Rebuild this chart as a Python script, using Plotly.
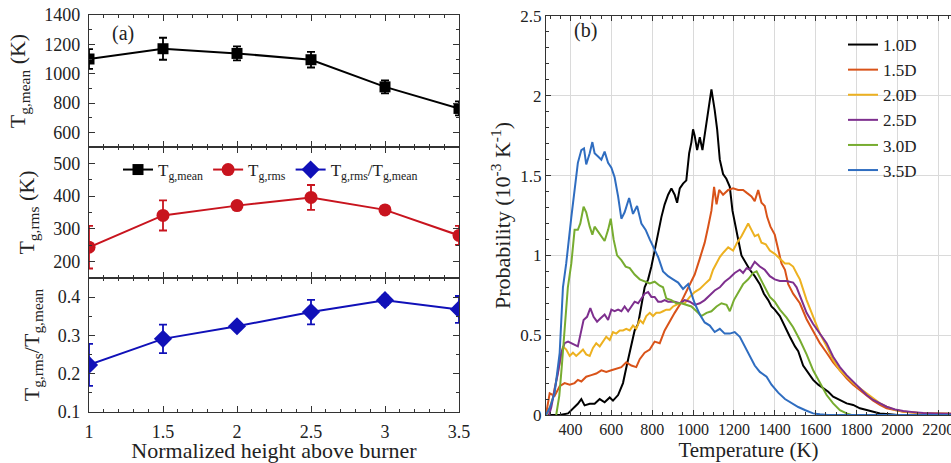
import plotly.graph_objects as go

# ---------------- Panel (a) data ----------------
heights = [1.0, 1.5, 2.0, 2.5, 3.0, 3.5]
tg_mean = [1100, 1170, 1138, 1095, 910, 763]
tg_mean_err = [68, 75, 48, 53, 44, 48]
tg_rms = [244, 341, 371, 396, 358, 280]
tg_rms_err = [65, 46, 10, 38, 8, 29]
tg_ratio = [0.223, 0.291, 0.324, 0.361, 0.392, 0.368]
tg_ratio_err = [0.055, 0.037, 0.01, 0.032, 0.012, 0.035]

# ---------------- Panel (b) data (PDFs) ----------------
T_10D = [280, 347, 388, 412, 436, 453, 469, 494, 518, 543, 567, 592, 608, 633, 657, 677, 698, 714, 731, 747,
         763, 780, 796, 812, 829, 845, 861, 878, 894, 910, 922, 935, 951, 967, 981, 992, 1000, 1008, 1020, 1033,
         1046, 1057, 1074, 1090, 1106, 1118, 1131, 1147, 1163, 1180, 1193, 1204, 1221, 1237, 1258, 1278, 1302, 1327,
         1347, 1368, 1384, 1400, 1425, 1450, 1474, 1499, 1515, 1539, 1564, 1588, 1613, 1637, 1662, 1686, 1719, 1752,
         1784, 1817, 1850, 1882, 1915, 1964, 2000, 2100, 2263]
P_10D = [0, 0, 0.01, 0.04, 0.07, 0.10, 0.06, 0.07, 0.07, 0.10, 0.08, 0.11, 0.09, 0.125, 0.20, 0.32, 0.45, 0.53, 0.57, 0.68,
         0.80, 0.85, 0.93, 1.03, 1.14, 1.24, 1.32, 1.38, 1.42, 1.38, 1.33, 1.42, 1.45, 1.47, 1.64, 1.71, 1.79, 1.75, 1.66, 1.74,
         1.66, 1.76, 1.89, 2.04, 1.91, 1.79, 1.60, 1.51, 1.48, 1.43, 1.28, 1.20, 1.10, 1.00, 0.95, 0.91, 0.87, 0.82,
         0.76, 0.72, 0.68, 0.66, 0.62, 0.55, 0.49, 0.43, 0.40, 0.31, 0.26, 0.22, 0.19, 0.167, 0.146, 0.115, 0.094, 0.073,
         0.063, 0.042, 0.031, 0.02, 0.01, 0.004, 0, 0, 0]

T_15D = [281, 298, 322, 347, 371, 396, 420, 436, 453, 477, 502, 526, 551, 575, 600, 624, 649, 673, 698, 722,
         739, 763, 788, 812, 837, 861, 886, 910, 935, 959, 984, 1008, 1033, 1057, 1074, 1090, 1103, 1115, 1128, 1147,
         1172, 1196, 1221, 1245, 1265, 1286, 1302, 1319, 1335, 1351, 1363, 1379, 1400, 1417, 1433, 1450, 1466, 1490,
         1523, 1556, 1588, 1621, 1654, 1686, 1719, 1752, 1784, 1817, 1850, 1882, 1915, 1948, 1989, 2029, 2078, 2127,
         2193, 2263]
P_15D = [0.01, 0.136, 0.12, 0.18, 0.20, 0.19, 0.20, 0.22, 0.21, 0.24, 0.25, 0.26, 0.28, 0.27, 0.28, 0.29, 0.30, 0.33, 0.31, 0.30,
         0.35, 0.39, 0.41, 0.46, 0.45, 0.53, 0.59, 0.64, 0.69, 0.75, 0.82, 0.88, 0.98, 1.08, 1.18, 1.28, 1.43, 1.32, 1.41, 1.38,
         1.41, 1.42, 1.41, 1.41, 1.39, 1.37, 1.34, 1.41, 1.33, 1.31, 1.24, 1.18, 1.13, 1.03, 0.95, 0.91, 0.82, 0.76,
         0.70, 0.60, 0.53, 0.45, 0.39, 0.33, 0.28, 0.23, 0.19, 0.157, 0.12, 0.09, 0.063, 0.042, 0.031, 0.021, 0.015, 0.01,
         0.01, 0.008]

T_20D = [285, 294, 314, 330, 347, 363, 379, 396, 412, 428, 445, 461, 477, 494, 510, 526, 543, 559, 575, 592, 608,
         624, 641, 657, 673, 690, 706, 722, 739, 755, 771, 788, 804, 820, 837, 853, 869, 886, 902, 918, 935,
         959, 984, 1008, 1033, 1057, 1082, 1098, 1115, 1131, 1150, 1172, 1196, 1216, 1237, 1253, 1270, 1286, 1302,
         1319, 1335, 1356, 1376, 1400, 1425, 1450, 1470, 1490, 1510, 1523, 1556, 1588, 1621, 1654, 1686, 1719, 1752,
         1784, 1817, 1850, 1882, 1915, 1948, 1989, 2029, 2078, 2127, 2193, 2263]
P_20D = [0, 0.03, 0.11, 0.22, 0.345, 0.43, 0.41, 0.37, 0.39, 0.37, 0.39, 0.41, 0.38, 0.37, 0.42, 0.45, 0.43, 0.46, 0.49, 0.47, 0.52,
         0.51, 0.53, 0.53, 0.54, 0.53, 0.56, 0.54, 0.595, 0.575, 0.62, 0.64, 0.62, 0.64, 0.64, 0.65, 0.66, 0.66, 0.68, 0.69, 0.70,
         0.70, 0.74, 0.77, 0.79, 0.82, 0.85, 0.91, 0.95, 0.99, 1.02, 1.05, 1.03, 1.08, 1.12, 1.16, 1.20, 1.16, 1.12,
         1.13, 1.08, 1.07, 1.03, 1.01, 0.98, 0.95, 0.95, 0.93, 0.88, 0.85, 0.72, 0.62, 0.51, 0.43, 0.345, 0.28, 0.24,
         0.20, 0.167, 0.136, 0.104, 0.073, 0.052, 0.031, 0.022, 0.015, 0.01, 0.01, 0.008]

T_25D = [295, 306, 322, 338, 355, 371, 388, 404, 420, 436, 453, 464, 481, 497, 513, 530, 546, 567, 584, 600, 616,
         633, 649, 665, 682, 698, 714, 731, 747, 763, 780, 796, 812, 829, 845, 861, 878, 894, 910, 935, 959,
         984, 1008, 1033, 1057, 1082, 1106, 1131, 1155, 1180, 1204, 1229, 1245, 1262, 1278, 1302, 1327, 1351, 1376,
         1400, 1425, 1458, 1490, 1507, 1531, 1556, 1588, 1621, 1654, 1686, 1719, 1752, 1784, 1817, 1850, 1882, 1915,
         1948, 1989, 2029, 2078, 2127, 2193, 2263]
P_25D = [0, 0.05, 0.16, 0.26, 0.39, 0.45, 0.46, 0.45, 0.44, 0.43, 0.53, 0.595, 0.615, 0.67, 0.615, 0.585, 0.605, 0.63, 0.595, 0.66, 0.65,
         0.66, 0.65, 0.68, 0.65, 0.68, 0.71, 0.70, 0.73, 0.76, 0.77, 0.74, 0.74, 0.71, 0.71, 0.72, 0.71, 0.71, 0.71, 0.70, 0.72,
         0.71, 0.69, 0.70, 0.72, 0.75, 0.78, 0.80, 0.835, 0.86, 0.89, 0.91, 0.89, 0.92, 0.91, 0.96, 0.93, 0.91, 0.87,
         0.85, 0.84, 0.84, 0.83, 0.80, 0.72, 0.64, 0.57, 0.51, 0.45, 0.365, 0.30, 0.25, 0.21, 0.167, 0.125, 0.094, 0.073,
         0.052, 0.035, 0.025, 0.018, 0.012, 0.01, 0.008]

T_30D = [330, 345, 357, 371, 387, 404, 420, 436, 448, 464, 477, 494, 507, 518, 535, 551, 567, 584, 597, 611,
         628, 649, 670, 690, 714, 739, 763, 788, 812, 837, 853, 869, 894, 918, 943, 967, 992, 1017, 1041, 1066,
         1090, 1115, 1139, 1164, 1180, 1200, 1221, 1245, 1270, 1294, 1311, 1327, 1351, 1376, 1400, 1425, 1458, 1490,
         1523, 1556, 1588, 1621, 1654, 1686, 1719, 1752, 1776, 2263]
P_30D = [0, 0.12, 0.30, 0.55, 0.80, 0.95, 1.16, 1.16, 1.20, 1.305, 1.27, 1.18, 1.13, 1.18, 1.15, 1.12, 1.09, 1.16, 1.23, 1.10,
         1.00, 0.97, 0.93, 0.92, 0.88, 0.85, 0.84, 0.825, 0.835, 0.81, 0.80, 0.73, 0.72, 0.70, 0.70, 0.69, 0.68, 0.65, 0.62, 0.64,
         0.65, 0.68, 0.70, 0.69, 0.65, 0.72, 0.77, 0.82, 0.85, 0.89, 0.90, 0.86, 0.80, 0.74, 0.71, 0.66, 0.61, 0.55,
         0.47, 0.38, 0.28, 0.20, 0.125, 0.073, 0.03, 0.01, 0, 0]

T_35D = [280, 300, 322, 347, 363, 379, 404, 420, 436, 453, 466, 477, 494, 507, 518, 535, 551, 567, 584, 600,
         616, 633, 649, 665, 687, 706, 726, 747, 768, 788, 812, 829, 853, 878, 902, 927, 951, 976, 992, 1008,
         1033, 1057, 1082, 1106, 1131, 1155, 1180, 1204, 1229, 1253, 1278, 1302, 1327, 1360, 1384, 1417, 1450, 1482,
         1515, 1550, 1588, 1621, 1660, 1800, 2263]
P_35D = [0, 0.05, 0.136, 0.39, 0.80, 0.95, 1.24, 1.43, 1.58, 1.66, 1.67, 1.57, 1.64, 1.71, 1.64, 1.62, 1.60, 1.65, 1.58, 1.55,
         1.49, 1.37, 1.23, 1.27, 1.36, 1.26, 1.31, 1.20, 1.16, 1.10, 1.03, 0.99, 0.90, 0.87, 0.85, 0.83, 0.79, 0.82, 0.76, 0.70,
         0.63, 0.58, 0.56, 0.52, 0.54, 0.51, 0.51, 0.52, 0.49, 0.43, 0.37, 0.31, 0.27, 0.24, 0.19, 0.14, 0.10, 0.073,
         0.05, 0.03, 0.01, 0.004, 0, 0, 0]

pdf_names = ["1.0D", "1.5D", "2.0D", "2.5D", "3.0D", "3.5D"]
pdf_T = [T_10D, T_15D, T_20D, T_25D, T_30D, T_35D]
pdf_P = [P_10D, P_15D, P_20D, P_25D, P_30D, P_35D]
pdf_colors = ["#000000", "#D95319", "#EDB120", "#7E2F8E", "#77AC30", "#2F6DC0"]

FONT = "Liberation Serif"
W, H = 951, 463

def px_x(p):
    return p / W

def px_y(p):
    return 1 - p / H

fig = go.Figure()

fig.add_trace(go.Scatter(
    x=heights, y=tg_mean, xaxis="x3", yaxis="y3", name="T<sub>g,mean</sub>",
    mode="lines+markers", line=dict(color="black", width=2),
    marker=dict(symbol="square", size=11, color="black"),
    error_y=dict(type="data", array=tg_mean_err, color="black", thickness=1.8, width=4),
    legend="legend"))
fig.add_trace(go.Scatter(
    x=heights, y=tg_rms, xaxis="x2", yaxis="y2", name="T<sub>g,rms</sub>",
    mode="lines+markers", line=dict(color="#C8141E", width=2),
    marker=dict(symbol="circle", size=13, color="#C8141E"),
    error_y=dict(type="data", array=tg_rms_err, color="#C8141E", thickness=1.8, width=4),
    legend="legend"))
fig.add_trace(go.Scatter(
    x=heights, y=tg_ratio, xaxis="x", yaxis="y", name="T<sub>g,rms</sub>/T<sub>g,mean</sub>",
    mode="lines+markers", line=dict(color="#1010B8", width=2),
    marker=dict(symbol="diamond", size=14, color="#1010B8"),
    error_y=dict(type="data", array=tg_ratio_err, color="#1010B8", thickness=1.8, width=4),
    legend="legend"))

for name, tx, py, col in zip(pdf_names, pdf_T, pdf_P, pdf_colors):
    fig.add_trace(go.Scatter(x=tx, y=py, xaxis="x4", yaxis="y4", name=name, mode="lines",
                             line=dict(color=col, width=2), legend="legend2"))

LX = [px_x(89), px_x(459)]
common_left = dict(showline=True, linecolor="#333", linewidth=1.2, mirror="allticks",
                   ticks="inside", ticklen=6, tickcolor="#333", showgrid=False, zeroline=False,
                   automargin=False, ticklabelstandoff=4,
                   tickfont=dict(family=FONT, size=18, color="#222"))
xleft = dict(common_left, range=[1, 3.5], dtick=0.5, tick0=1, ticklabelstandoff=3,
             minor=dict(ticks="inside", ticklen=3, dtick=0.1, tick0=1, tickcolor="#333"))

title_font = dict(family=FONT, size=22, color="#222")

fig.update_layout(
    width=W, height=H,
    margin=dict(l=0, r=0, t=0, b=0, autoexpand=False),
    paper_bgcolor="white", plot_bgcolor="white",
    font=dict(family=FONT, color="#222"),
    xaxis=dict(xleft, domain=LX, anchor="y",
               title=dict(text="Normalized height above burner", font=dict(family=FONT, size=22), standoff=7)),
    xaxis2=dict(xleft, domain=LX, anchor="y2", showticklabels=False, matches="x"),
    xaxis3=dict(xleft, domain=LX, anchor="y3", showticklabels=False, matches="x"),
    yaxis=dict(common_left, domain=[px_y(412), px_y(278)], anchor="x", range=[0.1, 0.45], dtick=0.1, tick0=0.1,
               minor=dict(ticks="inside", ticklen=3, dtick=0.05, tickcolor="#333"),
               title=dict(text="T<sub>g,rms</sub>/T<sub>g,mean</sub>", font=title_font, standoff=12)),
    yaxis2=dict(common_left, domain=[px_y(278), px_y(147)], anchor="x2", range=[150, 550], dtick=100, tick0=200,
                minor=dict(ticks="inside", ticklen=3, dtick=50, tickcolor="#333"),
                title=dict(text="T<sub>g,rms</sub> (K)", font=title_font, standoff=12)),
    yaxis3=dict(common_left, domain=[px_y(147), px_y(15)], anchor="x3", range=[500, 1400], dtick=200, tick0=600,
                minor=dict(ticks="inside", ticklen=3, dtick=100, tickcolor="#333"),
                title=dict(text="T<sub>g,mean</sub> (K)", font=title_font, standoff=12)),
    xaxis4=dict(domain=[px_x(546), 1.0], anchor="y4", range=[280, 2263], dtick=200, tick0=400,
                showline=True, linecolor="#333", linewidth=1.2, mirror="allticks",
                ticks="inside", ticklen=5, tickcolor="#333", zeroline=False, automargin=False,
                ticklabeloverflow="allow",
                showgrid=True, gridcolor="#DADADA", gridwidth=1,
                minor=dict(ticks="inside", ticklen=3, dtick=50, tickcolor="#333"),
                tickfont=dict(family=FONT, size=16, color="#222"),
                title=dict(text="Temperature (K)", font=dict(family=FONT, size=21), standoff=3)),
    yaxis4=dict(domain=[px_y(415), px_y(16)], anchor="x4", range=[0, 2.5], dtick=0.5,
                showline=True, linecolor="#333", linewidth=1.2, mirror=False,
                ticks="inside", ticklen=5, tickcolor="#333", zeroline=False, automargin=False,
                showgrid=True, gridcolor="#DADADA", gridwidth=1,
                minor=dict(ticks="inside", ticklen=3, dtick=0.1, tickcolor="#333"),
                tickfont=dict(family=FONT, size=17, color="#222"),
                title=dict(text="Probability (10<sup>-3</sup> K<sup>-1</sup>)", font=dict(family=FONT, size=22), standoff=3)),
    legend=dict(orientation="h", x=px_x(118), y=px_y(152), xanchor="left", yanchor="top",
                bgcolor="rgba(0,0,0,0)", font=dict(family=FONT, size=17), itemwidth=30,
                tracegroupgap=0),
    legend2=dict(x=px_x(843), y=px_y(27), xanchor="left", yanchor="top",
                 bgcolor="rgba(0,0,0,0)", font=dict(family=FONT, size=17), itemwidth=30,
                 tracegroupgap=0),
    annotations=[
        dict(text="(a)", x=px_x(123), y=px_y(34), xref="paper", yref="paper", showarrow=False,
             xanchor="center", yanchor="middle",
             font=dict(family=FONT, size=20, color="#222")),
        dict(text="(b)", x=px_x(585), y=px_y(30), xref="paper", yref="paper", showarrow=False,
             xanchor="center", yanchor="middle",
             font=dict(family=FONT, size=20, color="#222")),
    ],
)

fig.write_html("out.html", config={"displayModeBar": False},
               post_script="document.body.style.margin='0px';document.body.style.overflow='hidden';")
